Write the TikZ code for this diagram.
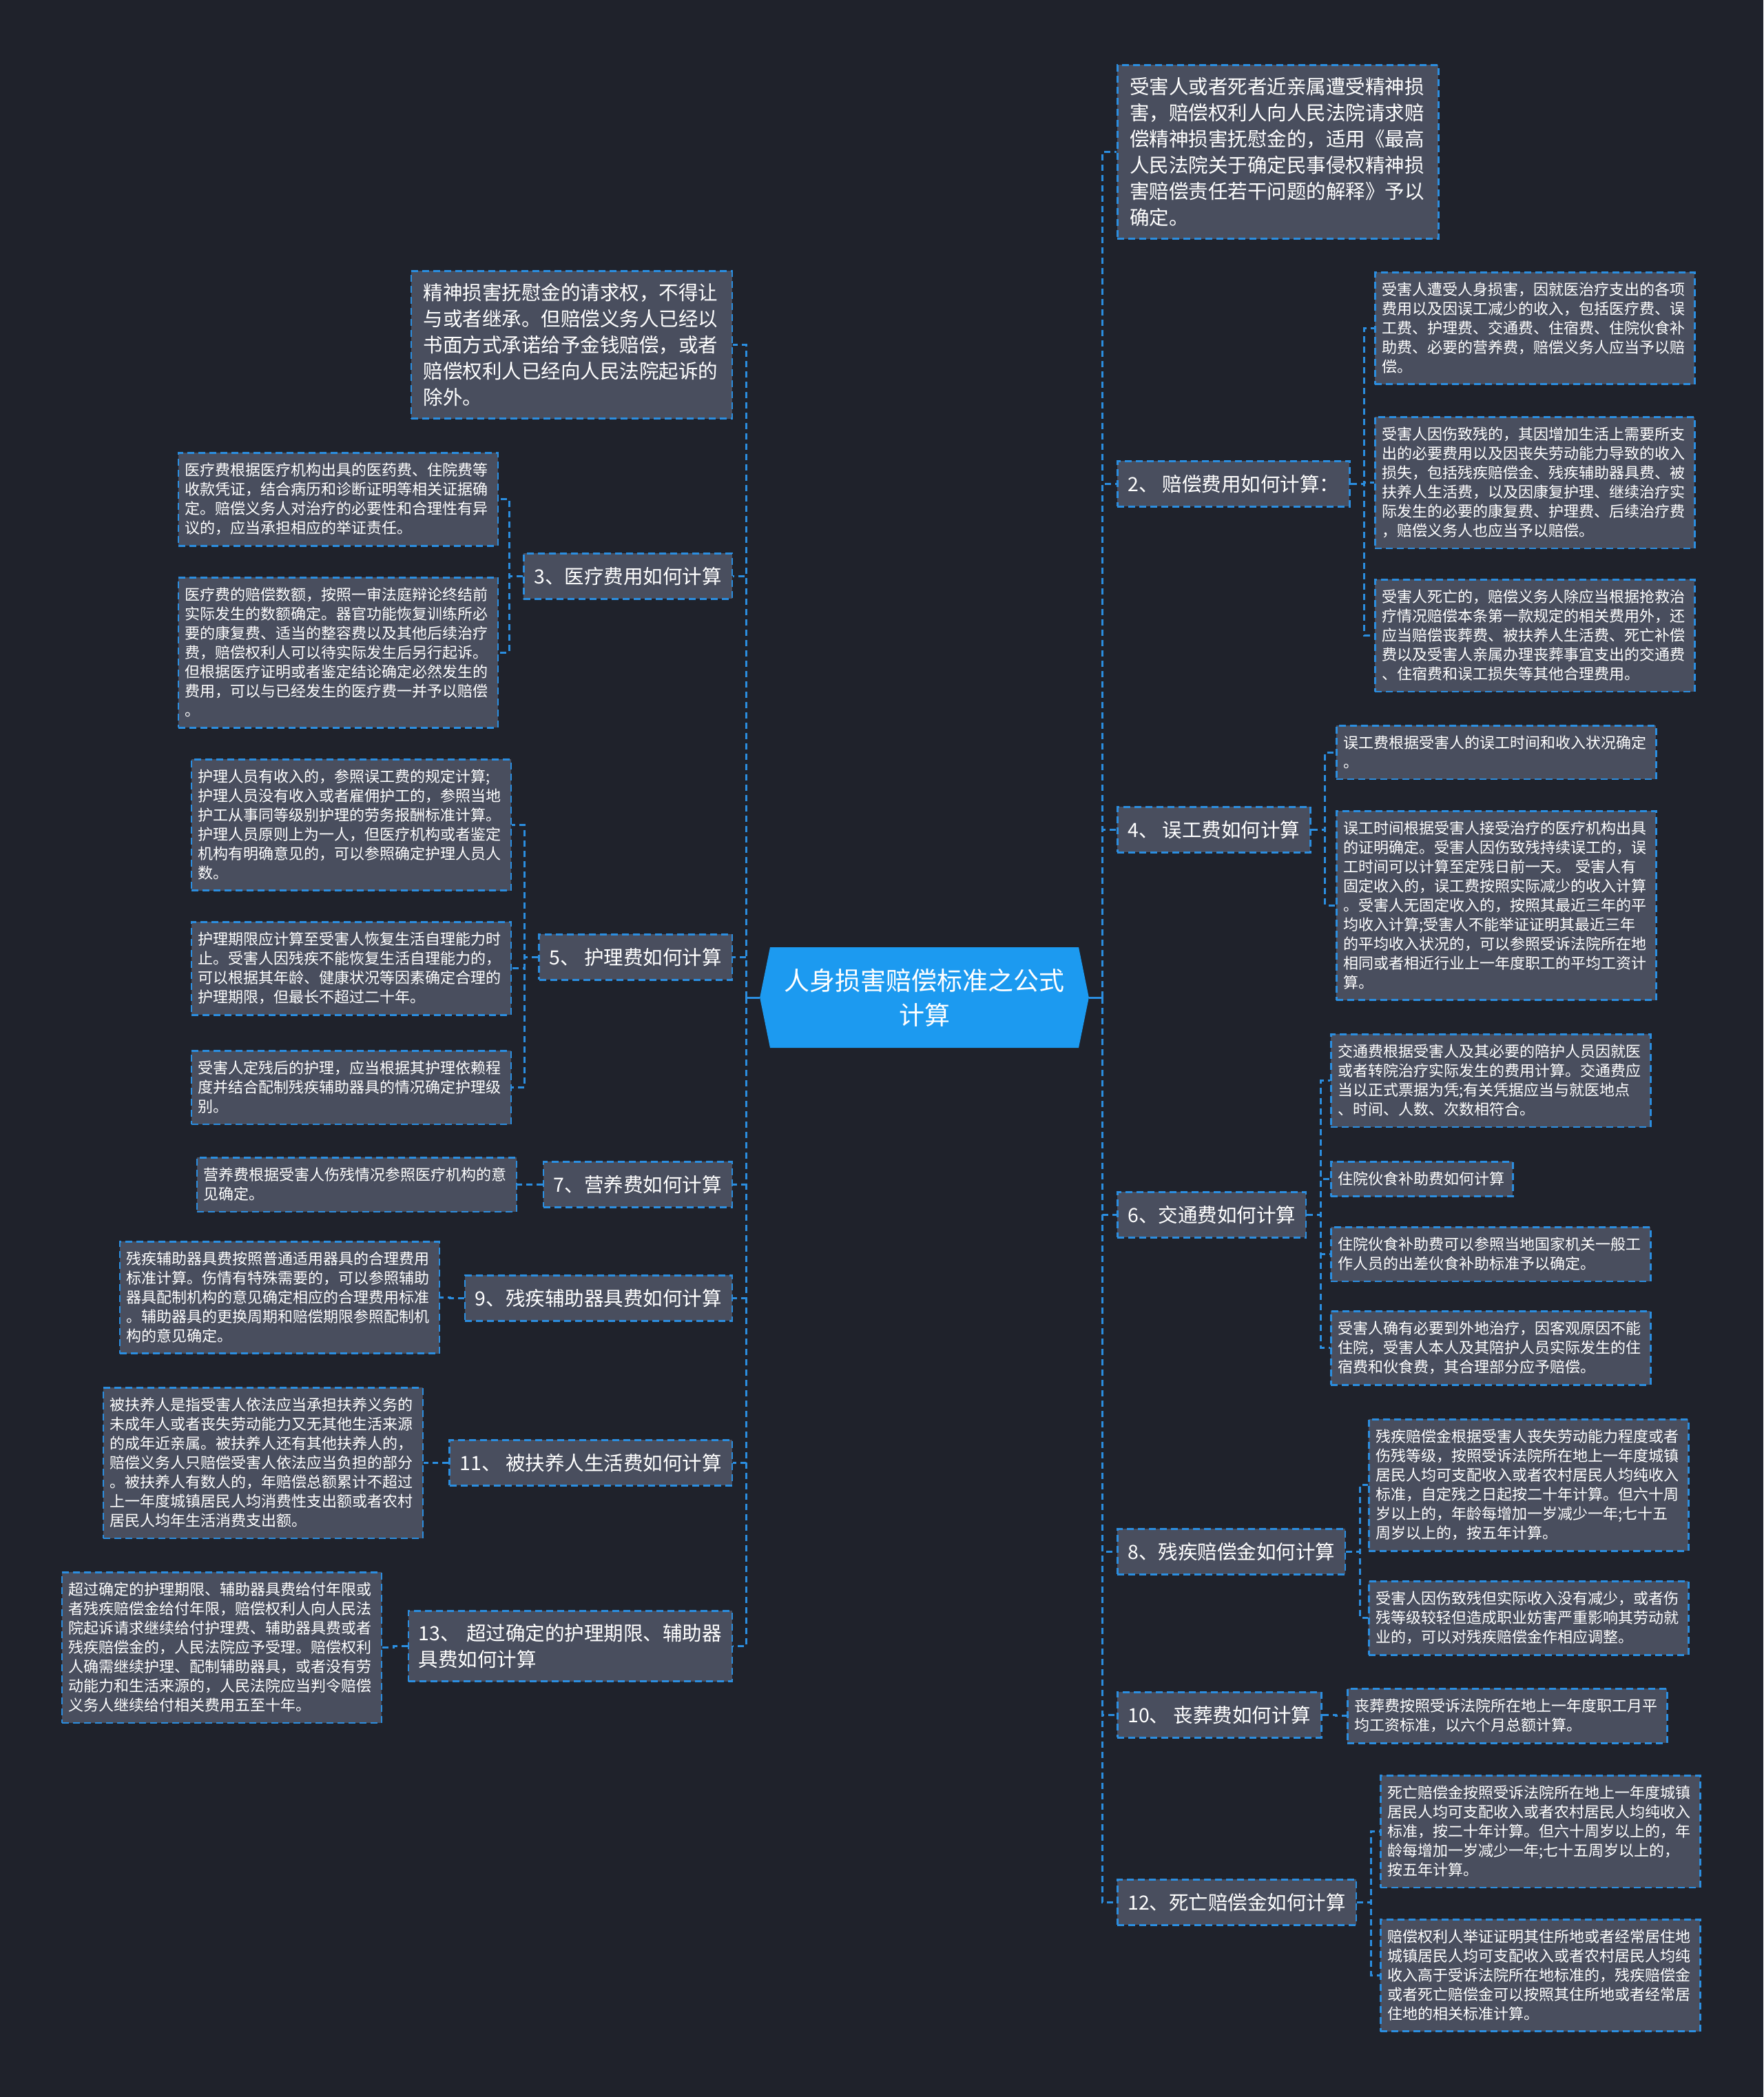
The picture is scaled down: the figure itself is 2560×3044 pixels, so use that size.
\documentclass[tikz,border=0pt]{standalone}
\usepackage{fontspec}
\setmainfont{Noto Sans CJK SC}
\usepackage{tikz}
\usetikzlibrary{positioning,shapes.symbols}
\definecolor{bgdark}{RGB}{31,34,43}
\definecolor{boxgrey}{RGB}{73,78,94}
\definecolor{linkblue}{RGB}{43,142,224}
\definecolor{rootblue}{RGB}{28,154,240}

\begin{document}
\begin{tikzpicture}[x=1pt, y=-1pt,
every node/.style={text=white},
detail/.style={draw=linkblue, fill=boxgrey, line width=2.5pt, dash pattern=on 10pt off 6pt,
  font=\fontsize{22}{28}\selectfont, text width=444pt, align=left, inner xsep=10pt, inner ysep=15pt},
bigbox/.style={detail, font=\fontsize{28.5}{38}\selectfont, text width=430pt, inner xsep=18pt, inner ysep=18pt},
branch/.style={draw=linkblue, fill=boxgrey, line width=2.5pt, dash pattern=on 10pt off 6pt,
  font=\fontsize{28.5}{38}\selectfont, inner xsep=15pt, inner ysep=19pt, minimum height=66pt},
root/.style={shape=signal, signal to=west and east, signal pointer angle=157, fill=rootblue,
  font=\fontsize{37}{50}\selectfont, text width=420pt, align=center, inner xsep=14pt, minimum height=146pt},
link/.style={draw=linkblue, line width=3pt, dash pattern=on 9pt off 6pt}]
\fill[bgdark] (0,0) rectangle (2560,3044);
\useasboundingbox (0,0) rectangle (2560,3044);

\node[root] (root) at (1342,1448) {人身损害赔偿标准之公式\\计算};

% left side
\node[bigbox, anchor=north east] (l1) at (1064,392) {精神损害抚慰金的请求权，不得让\\与或者继承。但赔偿义务人已经以\\书面方式承诺给予金钱赔偿，或者\\赔偿权利人已经向人民法院起诉的\\除外。};
\node[branch, anchor=north east] (l3) at (1064,802) {3、医疗费用如何计算};
\node[detail, anchor=north east] (l3a) at (724,656) {医疗费根据医疗机构出具的医药费、住院费等\\收款凭证，结合病历和诊断证明等相关证据确\\定。赔偿义务人对治疗的必要性和合理性有异\\议的，应当承担相应的举证责任。};
\node[detail, anchor=north east] (l3b) at (724,837) {医疗费的赔偿数额，按照一审法庭辩论终结前\\实际发生的数额确定。器官功能恢复训练所必\\要的康复费、适当的整容费以及其他后续治疗\\费，赔偿权利人可以待实际发生后另行起诉。\\但根据医疗证明或者鉴定结论确定必然发生的\\费用，可以与已经发生的医疗费一并予以赔偿\\。};
\node[branch, anchor=north east] (l5) at (1064,1355) {5、 护理费如何计算};
\node[detail, anchor=north east] (l5a) at (743,1101) {护理人员有收入的，参照误工费的规定计算;\\护理人员没有收入或者雇佣护工的，参照当地\\护工从事同等级别护理的劳务报酬标准计算。\\护理人员原则上为一人，但医疗机构或者鉴定\\机构有明确意见的，可以参照确定护理人员人\\数。};
\node[detail, anchor=north east] (l5b) at (743,1337) {护理期限应计算至受害人恢复生活自理能力时\\止。受害人因残疾不能恢复生活自理能力的，\\可以根据其年龄、健康状况等因素确定合理的\\护理期限，但最长不超过二十年。};
\node[detail, anchor=north east] (l5c) at (743,1524) {受害人定残后的护理，应当根据其护理依赖程\\度并结合配制残疾辅助器具的情况确定护理级\\别。};
\node[branch, anchor=north east] (l7) at (1064,1685) {7、营养费如何计算};
\node[detail, anchor=north east] (l7a) at (751,1679) {营养费根据受害人伤残情况参照医疗机构的意\\见确定。};
\node[branch, anchor=north east] (l9) at (1064,1850) {9、残疾辅助器具费如何计算};
\node[detail, anchor=north east] (l9a) at (639,1801) {残疾辅助器具费按照普通适用器具的合理费用\\标准计算。伤情有特殊需要的，可以参照辅助\\器具配制机构的意见确定相应的合理费用标准\\。辅助器具的更换周期和赔偿期限参照配制机\\构的意见确定。};
\node[branch, anchor=north east] (l11) at (1064,2089) {11、 被扶养人生活费如何计算};
\node[detail, anchor=north east] (l11a) at (615,2013) {被扶养人是指受害人依法应当承担扶养义务的\\未成年人或者丧失劳动能力又无其他生活来源\\的成年近亲属。被扶养人还有其他扶养人的，\\赔偿义务人只赔偿受害人依法应当负担的部分\\。被扶养人有数人的，年赔偿总额累计不超过\\上一年度城镇居民人均消费性支出额或者农村\\居民人均年生活消费支出额。};
\node[branch, anchor=north east, text width=440pt, align=left] (l13) at (1064,2337) {13、 超过确定的护理期限、辅助器\\具费如何计算};
\node[detail, anchor=north east] (l13a) at (555,2281) {超过确定的护理期限、辅助器具费给付年限或\\者残疾赔偿金给付年限，赔偿权利人向人民法\\院起诉请求继续给付护理费、辅助器具费或者\\残疾赔偿金的，人民法院应予受理。赔偿权利\\人确需继续护理、配制辅助器具，或者没有劳\\动能力和生活来源的，人民法院应当判令赔偿\\义务人继续给付相关费用五至十年。};

% right side
\node[bigbox, anchor=north west] (r1) at (1621,93) {受害人或者死者近亲属遭受精神损\\害，赔偿权利人向人民法院请求赔\\偿精神损害抚慰金的，适用《最高\\人民法院关于确定民事侵权精神损\\害赔偿责任若干问题的解释》予以\\确定。};
\node[branch, anchor=north west] (r2) at (1621,668) {2、 赔偿费用如何计算：};
\node[detail, anchor=north west] (r2a) at (1995,394) {受害人遭受人身损害，因就医治疗支出的各项\\费用以及因误工减少的收入，包括医疗费、误\\工费、护理费、交通费、住宿费、住院伙食补\\助费、必要的营养费，赔偿义务人应当予以赔\\偿。};
\node[detail, anchor=north west] (r2b) at (1995,604) {受害人因伤致残的，其因增加生活上需要所支\\出的必要费用以及因丧失劳动能力导致的收入\\损失，包括残疾赔偿金、残疾辅助器具费、被\\扶养人生活费，以及因康复护理、继续治疗实\\际发生的必要的康复费、护理费、后续治疗费\\，赔偿义务人也应当予以赔偿。};
\node[detail, anchor=north west] (r2c) at (1995,840) {受害人死亡的，赔偿义务人除应当根据抢救治\\疗情况赔偿本条第一款规定的相关费用外，还\\应当赔偿丧葬费、被扶养人生活费、死亡补偿\\费以及受害人亲属办理丧葬事宜支出的交通费\\、住宿费和误工损失等其他合理费用。};
\node[branch, anchor=north west] (r4) at (1621,1170) {4、 误工费如何计算};
\node[detail, anchor=north west] (r4a) at (1939,1052) {误工费根据受害人的误工时间和收入状况确定\\。};
\node[detail, anchor=north west] (r4b) at (1939,1176) {误工时间根据受害人接受治疗的医疗机构出具\\的证明确定。受害人因伤致残持续误工的，误\\工时间可以计算至定残日前一天。 受害人有\\固定收入的，误工费按照实际减少的收入计算\\。受害人无固定收入的，按照其最近三年的平\\均收入计算;受害人不能举证证明其最近三年\\的平均收入状况的，可以参照受诉法院所在地\\相同或者相近行业上一年度职工的平均工资计\\算。};
\node[branch, anchor=north west] (r6) at (1621,1729) {6、交通费如何计算};
\node[detail, anchor=north west] (r6a) at (1931,1500) {交通费根据受害人及其必要的陪护人员因就医\\或者转院治疗实际发生的费用计算。交通费应\\当以正式票据为凭;有关凭据应当与就医地点\\、时间、人数、次数相符合。};
\node[detail, anchor=north west, text width=244pt] (r6b) at (1931,1685) {住院伙食补助费如何计算};
\node[detail, anchor=north west] (r6c) at (1931,1780) {住院伙食补助费可以参照当地国家机关一般工\\作人员的出差伙食补助标准予以确定。};
\node[detail, anchor=north west] (r6d) at (1931,1902) {受害人确有必要到外地治疗，因客观原因不能\\住院，受害人本人及其陪护人员实际发生的住\\宿费和伙食费，其合理部分应予赔偿。};
\node[branch, anchor=north west] (r8) at (1621,2218) {8、残疾赔偿金如何计算};
\node[detail, anchor=north west] (r8a) at (1986,2059) {残疾赔偿金根据受害人丧失劳动能力程度或者\\伤残等级，按照受诉法院所在地上一年度城镇\\居民人均可支配收入或者农村居民人均纯收入\\标准，自定残之日起按二十年计算。但六十周\\岁以上的，年龄每增加一岁减少一年;七十五\\周岁以上的，按五年计算。};
\node[detail, anchor=north west] (r8b) at (1986,2294) {受害人因伤致残但实际收入没有减少，或者伤\\残等级较轻但造成职业妨害严重影响其劳动就\\业的，可以对残疾赔偿金作相应调整。};
\node[branch, anchor=north west] (r10) at (1621,2455) {10、 丧葬费如何计算};
\node[detail, anchor=north west] (r10a) at (1955,2450) {丧葬费按照受诉法院所在地上一年度职工月平\\均工资标准，以六个月总额计算。};
\node[branch, anchor=north west] (r12) at (1621,2727) {12、死亡赔偿金如何计算};
\node[detail, anchor=north west] (r12a) at (2003,2576) {死亡赔偿金按照受诉法院所在地上一年度城镇\\居民人均可支配收入或者农村居民人均纯收入\\标准，按二十年计算。但六十周岁以上的，年\\龄每增加一岁减少一年;七十五周岁以上的，\\按五年计算。};
\node[detail, anchor=north west] (r12b) at (2003,2785) {赔偿权利人举证证明其住所地或者经常居住地\\城镇居民人均可支配收入或者农村居民人均纯\\收入高于受诉法院所在地标准的，残疾赔偿金\\或者死亡赔偿金可以按照其住所地或者经常居\\住地的相关标准计算。};

% connectors
\draw[link, solid] (root.west) -- ++(-19,0) coordinate (ltrunk);
\draw[link, solid] (root.east) -- ++(19,0) coordinate (rtrunk);
\foreach \n in {l1,l3,l5,l7,l9,l11,l13}
  \draw[link] (ltrunk) |- (\n.east);
\foreach \n in {r1,r2,r4,r6,r8,r10,r12}
  \draw[link] (rtrunk) |- (\n.west);
\foreach \p/\c in {l3/l3a,l3/l3b,l5/l5a,l5/l5b,l5/l5c,l7/l7a,l9/l9a,l11/l11a,l13/l13a}
  \draw[link] (\p.west) -- ++(-20,0) |- (\c.east);
\foreach \p/\c in {r2/r2a,r2/r2b,r2/r2c,r4/r4a,r4/r4b,r6/r6a,r6/r6b,r6/r6c,r6/r6d,r8/r8a,r8/r8b,r10/r10a,r12/r12a,r12/r12b}
  \draw[link] (\p.east) -- ++(20,0) |- (\c.west);
\end{tikzpicture}
\end{document}
